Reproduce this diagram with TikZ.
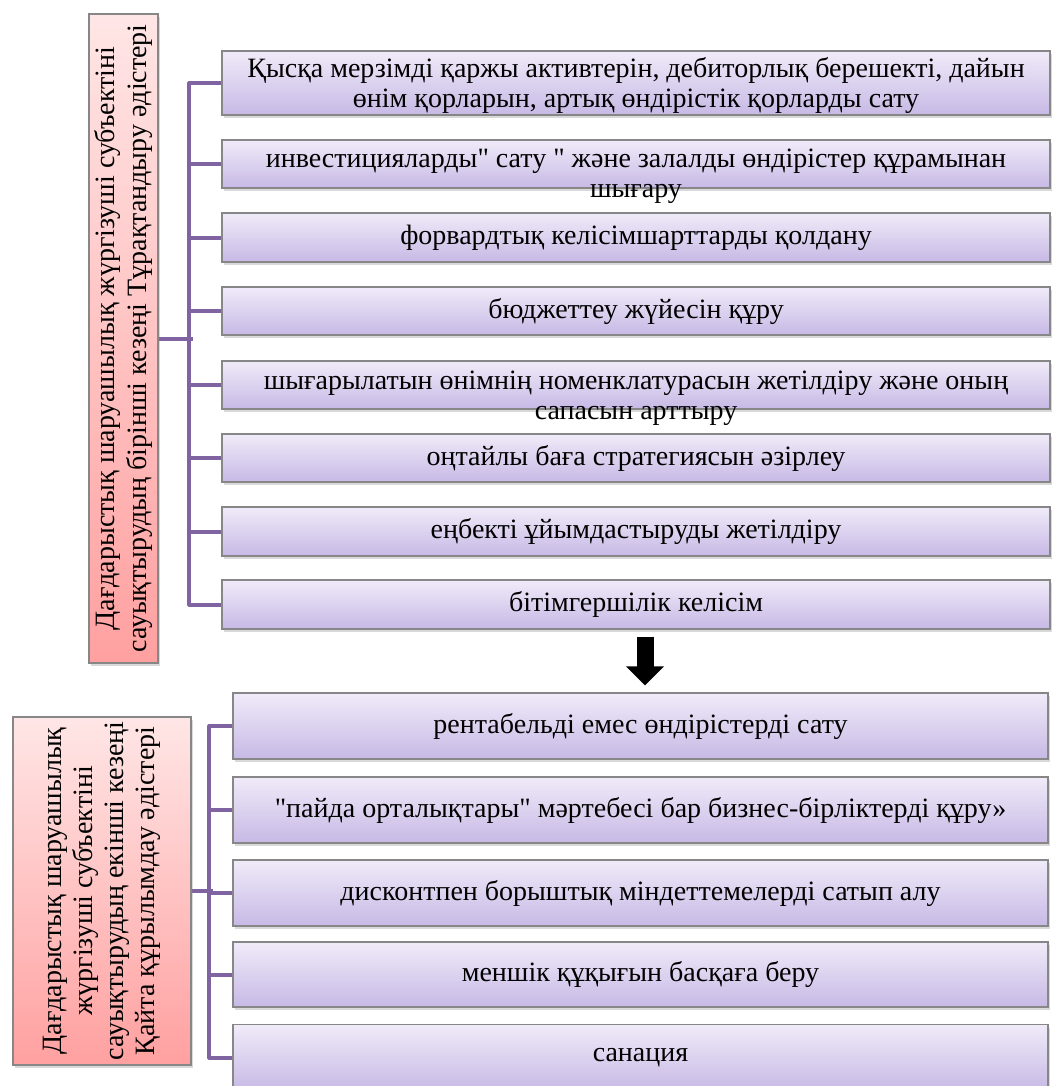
\documentclass[tikz,border=0pt]{standalone}
\usepackage{fontspec}
\setmainfont{Liberation Serif}[Ligatures=TeXOff]
\usetikzlibrary{positioning,shadows,arrows.meta,backgrounds}
\definecolor{lavtop}{RGB}{240,235,249}
\definecolor{lavbot}{RGB}{199,185,229}
\definecolor{pinktop}{RGB}{255,230,230}
\definecolor{pinkbot}{RGB}{255,160,160}
\definecolor{busline}{RGB}{128,100,162}
\definecolor{edgegray}{RGB}{135,135,135}

\begin{document}
\begin{tikzpicture}[x=0.5pt,y=-0.5pt,
        font=\fontsize{14}{15}\selectfont,
        item/.style={draw=edgegray, line width=0.6pt, top color=lavtop, bottom color=lavbot,
                     drop shadow={opacity=0.3,shadow xshift=0.8pt,shadow yshift=-1.5pt},
                     inner sep=0pt, align=center},
        itemtext/.style={inner sep=0pt, align=center},
        stage/.style={draw=edgegray, line width=0.6pt, rotate=90, top color=pinktop, bottom color=pinkbot,
                      drop shadow={opacity=0.3,shadow xshift=1pt,shadow yshift=-1.5pt},
                      inner sep=0pt, align=center},
        bus/.style={draw=busline, line width=2pt, line join=round},
        bigarrow/.style={line width=8.5pt, -{Triangle[width=18.5pt,length=9.5pt]},
                         shorten <=3.5pt, shorten >=3.5pt}]
    \useasboundingbox (0,0) rectangle (1052,1086);
    % Первый этап
    \node[stage, minimum width=324.5pt, minimum height=34.5pt, font=\fontsize{14}{16}\selectfont] (s1) at (123.5,338.5)
        {Дағдарыстық шаруашылық жүргізуші субъектіні\\сауықтырудың бірінші кезеңі Тұрақтандыру әдістері};
    \node[item, minimum width=414pt, minimum height=32pt] (t1) at (636,83) {};
    \node[itemtext, below=3.5pt of t1.north] (t1txt)
        {Қысқа мерзімді қаржы активтерін, дебиторлық берешекті, дайын\\өнім қорларын, артық өндірістік қорларды сату};
    \node[item, minimum width=414pt, minimum height=24pt] (t2) at (636,164) {};
    \node[itemtext, below=4.5pt of t2.north] (t2txt)
        {инвестицияларды" сату " және залалды өндірістер құрамынан\\шығару};
    \node[item, minimum width=414pt, minimum height=24.5pt] (t3) at (636,237.5) {форвардтық келісімшарттарды қолдану};
    \node[item, minimum width=414pt, minimum height=24pt] (t4) at (636,311) {бюджеттеу жүйесін құру};
    \node[item, minimum width=414pt, minimum height=24pt] (t5) at (636,385) {};
    \node[itemtext, below=5pt of t5.north] (t5txt)
        {шығарылатын өнімнің номенклатурасын жетілдіру және оның\\сапасын арттыру};
    \node[item, minimum width=414pt, minimum height=24pt] (t6) at (636,458) {оңтайлы баға стратегиясын әзірлеу};
    \node[item, minimum width=414pt, minimum height=24.5pt] (t7) at (636,531.5) {еңбекті ұйымдастыруды жетілдіру};
    \node[item, minimum width=414pt, minimum height=24.5pt] (t8) at (636,604.5) {бітімгершілік келісім};
    % Стрелка между этапами
    \coordinate (arrtop) at ([xshift=4.5pt]t8.south);
    % Второй этап
    \node[stage, minimum width=174pt, minimum height=89pt, font=\fontsize{14}{15.5}\selectfont] (s2) at (102,891)
        {Дағдарыстық шаруашылық\\жүргізуші субъектіні\\сауықтырудың екінші кезеңі\\Қайта құрылымдау әдістері};
    \node[item, minimum width=407.5pt, minimum height=33pt] (b1) at (640.5,726) {рентабельді емес өндірістерді сату};
    \node[item, minimum width=407.5pt, minimum height=33pt] (b2) at (640.5,810) {"пайда орталықтары" мәртебесі бар бизнес-бірліктерді құру»};
    \node[item, minimum width=407.5pt, minimum height=33pt] (b3) at (640.5,893) {дисконтпен борыштық міндеттемелерді сатып алу};
    \node[item, minimum width=407.5pt, minimum height=32.5pt] (b4) at (640.5,974.5) {меншік құқығын басқаға беру};
    \node[item, minimum width=407.5pt, minimum height=33pt] (b5) at (640.5,1057.5) {санация};
    \coordinate (arrbot) at (arrtop |- b1.north);
    \draw[bigarrow] (arrtop) -- (arrbot);
    % Соединительные линии
    \begin{scope}[on background layer]
        \draw[bus] (t1.west) -- ++(-32,0) |- (t8.west);
        \foreach \n in {2,...,7} \draw[bus] (t\n.west) -- ++(-32,0);
        \draw[bus] (s1.south) -- ++(34,0);
        \draw[bus] (b1.west) -- ++(-23,0) |- (b5.west);
        \foreach \n in {2,3,4} \draw[bus] (b\n.west) -- ++(-23,0);
        \draw[bus] (s2.south) -- ++(21,0);
    \end{scope}
\end{tikzpicture}
\end{document}
